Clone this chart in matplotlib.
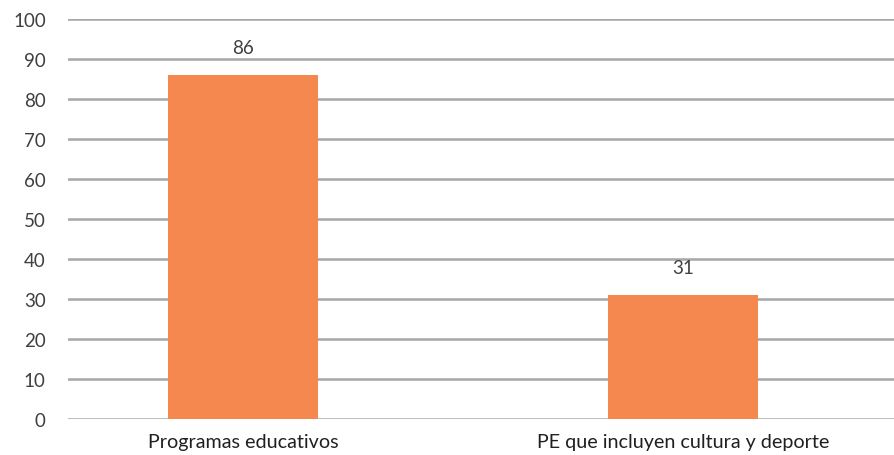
import matplotlib; matplotlib.use("Agg")
import matplotlib.pyplot as plt

plt.rcParams["font.family"] = ["Lato", "DejaVu Sans"]

categorias = ["Programas educativos", "PE que incluyen cultura y deporte"]
valores = [86, 31]
yticks = [0, 10, 20, 30, 40, 50, 60, 70, 80, 90, 100]

fig = plt.figure(figsize=(8.94, 4.56), dpi=100)
ax = fig.add_axes([68 / 894, 36 / 456, 1 - 68 / 894, 400 / 456])

xs = list(range(len(categorias)))
ax.bar(xs, valores, width=0.34, color="#F4884E", zorder=3)
for x, v in zip(xs, valores):
    ax.text(x, v + 4.8, str(v), ha="center", va="bottom", fontsize=13.5, color="#404040")

ax.set_xlim(-0.398, 1.48)
ax.set_ylim(0, 100)
ax.set_yticks(yticks)
ax.set_xticks(xs)
ax.set_xticklabels(categorias)
ax.grid(axis="y", color="#A6A6A6", lw=1.8, zorder=0)
ax.tick_params(axis="y", length=0, pad=16, labelsize=13.5, labelcolor="#404040")
ax.tick_params(axis="x", length=0, pad=10, labelsize=14.2, labelcolor="#202020")
for s in ax.spines.values():
    s.set_visible(False)

fig.savefig("out.png", dpi=100)
